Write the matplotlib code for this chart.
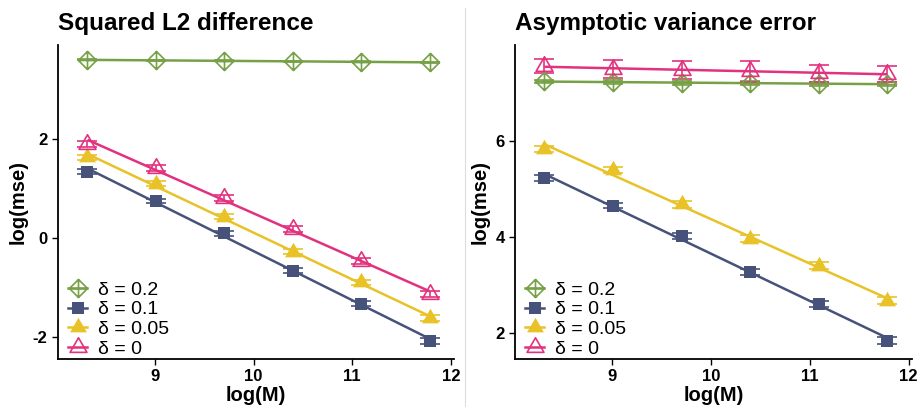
import numpy as np
import matplotlib
matplotlib.use("Agg")
import matplotlib.pyplot as plt
from matplotlib.path import Path
from matplotlib.lines import Line2D

plt.rcParams['font.family'] = ['Liberation Sans', 'DejaVu Sans']
plt.rcParams['axes.unicode_minus'] = False

# ---- data ----
log_M = [8.318, 9.011, 9.704, 10.397, 11.090, 11.783]
deltas = ["0.2", "0.1", "0.05", "0"]

l2_d02 = [3.59, 3.58, 3.57, 3.56, 3.55, 3.54]
l2_d01 = [1.33, 0.74, 0.09, -0.67, -1.33, -2.09]
l2_d005 = [1.62, 1.09, 0.42, -0.28, -0.90, -1.63]
l2_d0 = [1.90, 1.40, 0.81, 0.17, -0.47, -1.13]
l2_err_d02 = [0.01, 0.01, 0.01, 0.01, 0.01, 0.01]
l2_err_d01 = [0.05, 0.05, 0.05, 0.05, 0.05, 0.06]
l2_err_d005 = [0.05, 0.05, 0.05, 0.05, 0.05, 0.06]
l2_err_d0 = [0.06, 0.06, 0.06, 0.06, 0.06, 0.06]

av_d02 = [7.24, 7.23, 7.21, 7.20, 7.19, 7.19]
av_d01 = [5.23, 4.65, 4.02, 3.27, 2.59, 1.83]
av_d005 = [5.83, 5.39, 4.68, 3.96, 3.40, 2.67]
av_d0 = [7.56, 7.50, 7.48, 7.455, 7.41, 7.40]
av_err_d02 = [0.04, 0.04, 0.04, 0.04, 0.04, 0.04]
av_err_d01 = [0.06, 0.06, 0.06, 0.06, 0.06, 0.07]
av_err_d005 = [0.06, 0.07, 0.07, 0.07, 0.08, 0.08]
av_err_d0 = [0.15, 0.19, 0.19, 0.22, 0.18, 0.17]

colors = ["#77A146", "#465279", "#E8C227", "#E2327F"]

# ---- markers (R-like) ----
diamond_plus = Path(
    [(0, 1), (1, 0), (0, -1), (-1, 0), (0, 1), (-1, 0), (1, 0), (0, 1), (0, -1)],
    [Path.MOVETO, Path.LINETO, Path.LINETO, Path.LINETO, Path.CLOSEPOLY,
     Path.MOVETO, Path.LINETO, Path.MOVETO, Path.LINETO])
tri = Path([(0, 1), (-0.866, -0.5), (0.866, -0.5), (0, 1)],
           [Path.MOVETO, Path.LINETO, Path.LINETO, Path.CLOSEPOLY])

styles = [
    dict(marker=diamond_plus, ms=13, mfc='none', mew=1.2),
    dict(marker='s', ms=8, mew=0),
    dict(marker=tri, ms=14, mew=0),
    dict(marker=tri, ms=14, mfc='none', mew=1.2),
]

fig = plt.figure(figsize=(9.21, 4.07), dpi=100)
W, H = 921, 407


def make_ax(x0, x1, y0, y1):
    return fig.add_axes([x0 / W, 1 - y1 / H, (x1 - x0) / W, (y1 - y0) / H])


panels = [
    (make_ax(58, 454, 45, 359), "Squared L2 difference",
     [l2_d02, l2_d01, l2_d005, l2_d0],
     [l2_err_d02, l2_err_d01, l2_err_d005, l2_err_d0],
     (-2.45, 3.89), [-2, 0, 2]),
    (make_ax(515, 911.7, 45, 359), "Asymptotic variance error",
     [av_d02, av_d01, av_d005, av_d0],
     [av_err_d02, av_err_d01, av_err_d005, av_err_d0],
     (1.45, 8.0), [2, 4, 6]),
]

x = np.array(log_M)
for ax, title, ys, errs, ylim, yticks in panels:
    handles = []
    for y, e, c, st, d in zip(ys, errs, colors, styles, deltas):
        y = np.array(y)
        coef = np.polyfit(x, y, 1)
        ax.plot(x[[0, -1]], np.polyval(coef, x[[0, -1]]), color=c, lw=1.8,
                solid_capstyle='butt', zorder=2)
        ax.errorbar(x, y, yerr=e, fmt='none', ecolor=c, elinewidth=1.2,
                    capsize=7, capthick=1.2, zorder=3)
        kw = dict(st)
        ax.plot(x, y, ls='none', color=c, mec=c, zorder=4, **kw)
        h = Line2D([], [], ls='-', color=c, lw=1.8, mec=c, **kw)
        handles.append(h)
    ax.set_xlim(8.02, 12.03)
    ax.set_ylim(*ylim)
    ax.set_xticks([9, 10, 11, 12])
    ax.set_yticks(yticks)
    ax.set_yticklabels([str(t) for t in yticks])
    for s in ['top', 'right']:
        ax.spines[s].set_visible(False)
    for s in ['left', 'bottom']:
        ax.spines[s].set_linewidth(1.3)
    ax.tick_params(direction='out', length=4, width=1, labelsize=12)
    for lab in ax.get_xticklabels() + ax.get_yticklabels():
        lab.set_fontweight('bold')
    ax.set_xlabel("log(M)", fontsize=14.5, fontweight='bold', labelpad=1)
    ax.set_ylabel("log(mse)", fontsize=14.5, fontweight='bold', labelpad=4)
    ax.set_title(title, fontsize=17.5, fontweight='bold', loc='left', pad=11)
    leg = ax.legend(handles, [f"δ = {d}" for d in deltas], loc='lower left',
                    frameon=False, fontsize=14, handlelength=1.0,
                    handletextpad=0.55, labelspacing=0.11,
                    borderaxespad=0.0, borderpad=0.0,
                    bbox_to_anchor=(10 / 396, 1 / 314))

fig.add_artist(Line2D([465 / W, 465 / W], [0, 1 - 8 / H], color='#DDDDDD',
                      lw=0.8, transform=fig.transFigure))

fig.savefig("out.png", dpi=100)
